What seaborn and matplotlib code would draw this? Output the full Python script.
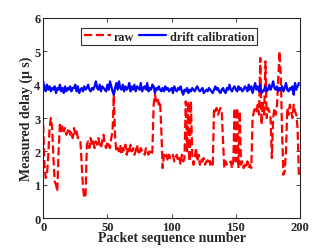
import numpy as np
import pandas as pd
import seaborn as sns
import matplotlib.pyplot as plt

# packet index and measured delay (us)
packets = np.arange(200)
raw = [
    2.8, 1.6, 1.2, 1.3, 1.9, 2.7, 3.0, 2.7, 1.8, 1.1,
    1.0, 0.8, 2.0, 2.8, 2.6, 2.8, 2.6, 2.7, 2.5, 2.6,
    2.7, 2.5, 2.6, 2.4, 2.7, 2.5, 2.6, 2.4, 2.4, 2.3,
    1.6, 0.9, 0.6, 0.7, 2.2, 2.3, 2.1, 2.4, 2.2, 2.3,
    2.1, 2.3, 2.2, 2.4, 2.2, 2.1, 2.3, 2.5, 2.2, 2.1,
    2.3, 2.2, 2.1, 2.4, 2.6, 3.7, 2.4, 2.0, 2.1, 2.0,
    2.2, 1.9, 2.1, 2.0, 2.2, 1.9, 2.1, 2.0, 2.2, 2.0,
    2.1, 1.9, 2.0, 2.2, 2.0, 1.9, 2.1, 2.0, 2.0, 1.9,
    2.1, 2.0, 1.9, 2.0, 1.9, 2.0, 3.4, 3.7, 3.5, 3.6,
    3.4, 3.5, 2.6, 1.5, 1.9, 1.8, 1.9, 1.7, 1.9, 1.8,
    1.8, 1.9, 1.7, 1.8, 1.9, 1.7, 1.8, 1.6, 1.9, 1.7,
    1.8, 3.5, 2.0, 3.5, 1.7, 3.5, 1.9, 1.6, 1.8, 2.1,
    1.7, 1.9, 1.6, 1.8, 1.7, 1.8, 1.6, 1.7, 1.7, 1.8,
    1.6, 1.7, 1.6, 3.3, 3.2, 3.3, 3.1, 3.2, 3.3, 3.2,
    2.3, 1.5, 1.7, 1.6, 1.6, 1.6, 1.7, 1.5, 1.7, 3.3,
    1.7, 3.3, 1.5, 3.2, 1.6, 1.7, 1.5, 1.6, 1.5, 1.7,
    1.5, 1.6, 1.5, 3.0, 3.2, 3.3, 3.2, 3.4, 3.1, 4.8,
    2.8, 3.5, 3.1, 4.7, 3.0, 3.3, 3.2, 3.0, 1.8, 3.0,
    3.3, 3.1, 3.4, 4.2, 5.0, 4.2, 2.5, 1.3, 1.4, 2.0,
    3.3, 3.1, 3.4, 3.2, 3.0, 3.4, 3.2, 3.1, 2.7, 1.3,
]
calibrated = [
    4.1, 3.9, 3.8, 4.0, 3.85, 3.95, 3.8, 3.9, 3.85, 3.95,
    3.75, 3.9, 3.85, 4.0, 3.8, 3.9, 3.75, 3.95, 3.8, 3.9,
    3.85, 3.95, 3.8, 3.9, 3.9, 4.0, 3.8, 3.95, 3.75, 3.85,
    3.9, 3.8, 3.95, 3.85, 3.9, 4.0, 3.85, 3.8, 3.9, 3.85,
    3.95, 4.1, 3.9, 3.85, 4.0, 3.8, 3.95, 3.9, 3.85, 3.8,
    4.0, 3.85, 4.1, 3.95, 3.8, 3.7, 3.9, 4.05, 3.85, 4.1,
    3.9, 3.85, 4.0, 3.8, 3.95, 3.85, 3.9, 4.05, 3.8, 3.95,
    3.85, 4.0, 3.8, 3.95, 3.9, 3.85, 4.05, 3.8, 3.9, 3.95,
    3.85, 4.05, 3.8, 3.9, 3.85, 4.0, 3.95, 3.75, 3.9, 3.85,
    3.95, 3.85, 3.8, 3.9, 3.8, 3.95, 3.85, 3.9, 3.8, 3.85,
    3.9, 3.75, 3.95, 3.85, 3.8, 3.9, 3.85, 3.95, 3.8, 3.7,
    3.85, 3.8, 3.9, 3.75, 3.85, 3.8, 3.9, 3.85, 3.8, 3.9,
    3.95, 3.85, 3.8, 3.85, 3.9, 3.75, 3.8, 3.85, 3.8, 3.9,
    3.85, 3.8, 3.75, 3.85, 3.95, 3.85, 3.9, 3.8, 3.75, 3.85,
    3.9, 3.8, 3.75, 3.9, 3.85, 4.0, 3.85, 3.8, 3.9, 3.95,
    3.85, 3.8, 3.95, 3.85, 3.9, 3.8, 3.85, 3.95, 3.9, 3.8,
    4.0, 3.85, 3.95, 3.75, 3.9, 4.05, 3.85, 3.95, 3.8, 4.0,
    3.75, 3.8, 3.85, 3.95, 3.8, 3.85, 4.0, 3.85, 3.95, 4.1,
    3.9, 3.85, 3.95, 3.8, 3.9, 3.85, 3.95, 3.8, 3.9, 4.05,
    3.85, 3.8, 3.9, 3.85, 3.95, 3.7, 4.05, 3.85, 3.95, 4.05,
]

df = pd.DataFrame({"packet": packets, "raw": raw, "drift calibration": calibrated})

sns.set_style("ticks")
plt.rcParams["font.family"] = ["Liberation Serif", "DejaVu Serif"]
plt.rcParams["font.weight"] = "bold"
plt.rcParams["xtick.direction"] = "in"
plt.rcParams["ytick.direction"] = "in"

fig = plt.figure(figsize=(3.32, 2.53), dpi=100)
ax = fig.add_axes([0.13, 0.134, 0.774, 0.791])

sns.lineplot(data=df, x="packet", y="raw", ax=ax, color="#ff0000",
             linestyle="--", linewidth=1.6, label="raw")
sns.lineplot(data=df, x="packet", y="drift calibration", ax=ax, color="#0000ff",
             linewidth=1.6, label="drift calibration")

ax.set_xlim(0, 200)
ax.set_ylim(0, 6)
ax.set_xticks([0, 50, 100, 150, 200])
ax.set_yticks(range(7))
ax.tick_params(labelsize=9, length=3, width=0.6, top=True, right=True, pad=2)
for s in ax.spines.values():
    s.set_linewidth(0.8)
ax.set_xlabel("Packet sequence number", fontsize=10, fontweight="bold", labelpad=-1)
ax.set_ylabel("Measured delay (\u03bc s)", fontsize=10, fontweight="bold", labelpad=1)

leg = ax.legend(loc="upper center", ncol=2, fontsize=8.8, frameon=True, fancybox=False,
                edgecolor="black", handlelength=2.2, handletextpad=0.3,
                columnspacing=0.4, borderpad=0.2, bbox_to_anchor=(0.49, 0.98))
leg.get_frame().set_linewidth(0.8)

fig.savefig("out.png", dpi=100)
